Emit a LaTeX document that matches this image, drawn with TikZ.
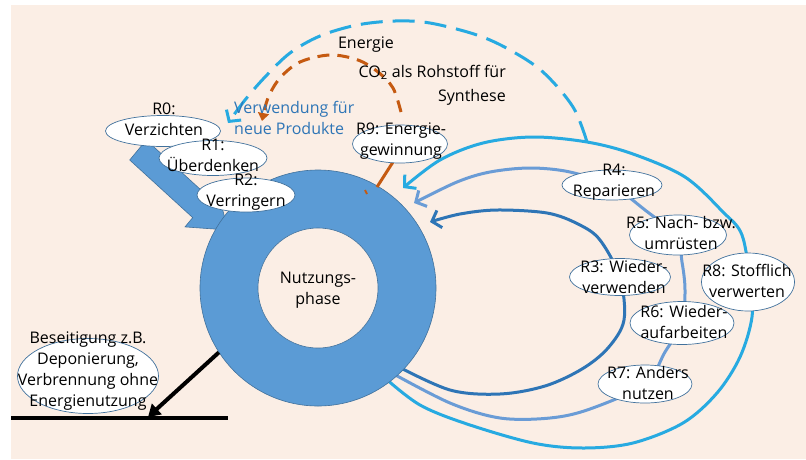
\documentclass[tikz,border=0pt]{standalone}
\usepackage{fontspec}
\setmainfont{Open Sans}
\usetikzlibrary{arrows.meta,shapes.geometric}
\definecolor{bg}{HTML}{FBEEE5}
\definecolor{ringblue}{HTML}{5B9BD5}
\definecolor{ringedge}{HTML}{41719C}
\definecolor{darkarc}{HTML}{2E75B6}
\definecolor{midarc}{HTML}{6A9CD6}
\definecolor{cyanarc}{HTML}{27AAE1}
\definecolor{orangearc}{HTML}{C55A11}
\definecolor{bluetext}{HTML}{2E75B6}
\begin{document}
\begin{tikzpicture}[x=1pt,y=-1pt,
  font=\fontsize{16}{21}\selectfont,
  bub/.style={ellipse, fill=white, draw=ringedge, line width=0.7pt, inner sep=0pt},
  txt/.style={align=center, inner sep=0pt, text=black},
  arc/.style={line width=3pt, -{Straight Barb[length=8pt,width=18pt]}},
  every plot/.style={smooth, tension=0.55}
]
\useasboundingbox (0,0) rectangle (806,459);
\fill[bg] (11,5) rectangle (806,459);

% block arrow from R0
\filldraw[fill=ringblue, draw=ringedge, line width=0.6pt]
  (129.7,160) -- (192.7,217.6) -- (185,226.9) -- (228,230) -- (217,188.3)
  -- (209.3,197.6) -- (146.3,140) -- cycle;

% waypoints
\coordinate (d0) at (395,365); \coordinate (d1) at (450,390); \coordinate (d2) at (500,394);
\coordinate (d3) at (545,386); \coordinate (d4) at (582,369); \coordinate (d5) at (608,348);
\coordinate (d6) at (624,320); \coordinate (r3c) at (620,278); \coordinate (d7) at (600,240);
\coordinate (d8) at (578,224); \coordinate (d9) at (547,213); \coordinate (d10) at (497,210);
\coordinate (d11) at (460,214); \coordinate (dt) at (430,222);

\coordinate (m0) at (390,372); \coordinate (m1) at (450,403); \coordinate (m2) at (500,418);
\coordinate (m3) at (550,418); \coordinate (m4) at (590,409); \coordinate (r7c) at (645,384);
\coordinate (m5) at (665,352); \coordinate (r6c) at (682,323); \coordinate (m6) at (685,290);
\coordinate (m7) at (682,262); \coordinate (r5c) at (676,236); \coordinate (m8) at (645,210);
\coordinate (r4c) at (612,186); \coordinate (m9) at (570,172); \coordinate (m10) at (530,168);
\coordinate (m11) at (490,172); \coordinate (m12) at (457,182); \coordinate (mt) at (414,203);

\coordinate (c0) at (385,378); \coordinate (c1) at (420,405); \coordinate (c2) at (467,424);
\coordinate (c3) at (533,443); \coordinate (c4) at (583,448); \coordinate (c5) at (633,443);
\coordinate (c6) at (683,423); \coordinate (c7) at (717,393); \coordinate (c8) at (740,357);
\coordinate (c9) at (752,317); \coordinate (c10) at (750,282); \coordinate (c11) at (742,235);
\coordinate (c12) at (723,212); \coordinate (c13) at (685,177); \coordinate (c14) at (633,154);
\coordinate (dashstart) at (587,142); \coordinate (c16) at (533,137); \coordinate (c17) at (483,143);
\coordinate (c18) at (440,160); \coordinate (ct) at (403,188);

\coordinate (e1) at (573,107); \coordinate (e2) at (543,72); \coordinate (e3) at (510,50);
\coordinate (e4) at (477,35); \coordinate (e5) at (430,23); \coordinate (e6) at (395,21);
\coordinate (e7) at (357,25); \coordinate (e8) at (320,36); \coordinate (e9) at (290,53);
\coordinate (e10) at (265,77); \coordinate (e11) at (245,100); \coordinate (et) at (228,123);

\coordinate (o0) at (401,112); \coordinate (o1) at (393,88); \coordinate (o2) at (378,72);
\coordinate (o3) at (358,60); \coordinate (o4) at (330,55); \coordinate (o5) at (300,62);
\coordinate (o6) at (280,78); \coordinate (o7) at (268,98); \coordinate (ot) at (262,121);

% arcs
\draw[arc, darkarc] plot coordinates {(d0) (d1) (d2) (d3) (d4) (d5) (d6) (r3c) (d7) (d8) (d9) (d10) (d11) (dt)};
\draw[arc, midarc] plot coordinates {(m0) (m1) (m2) (m3) (m4) (r7c) (m5) (r6c) (m6) (m7) (r5c) (m8) (r4c) (m9) (m10) (m11) (m12) (mt)};
\draw[arc, cyanarc] plot coordinates {(c0) (c1) (c2) (c3) (c4) (c5) (c6) (c7) (c8) (c9) (c10) (c11) (c12) (c13) (c14) (dashstart) (c16) (c17) (c18) (ct)};
\draw[arc, cyanarc, dash pattern=on 22pt off 10pt] plot coordinates {(dashstart) (e1) (e2) (e3) (e4) (e5) (e6) (e7) (e8) (e9) (e10) (e11) (et)};
\draw[line width=3pt, orangearc, dash pattern=on 12pt off 8pt, -{Triangle[length=8pt,width=11pt]}]
  plot coordinates {(o0) (o1) (o2) (o3) (o4) (o5) (o6) (o7) (ot)};

% ring
\node[circle, fill=ringblue, draw=ringedge, line width=0.6pt, minimum size=236pt, inner sep=0pt] (ring) at (318,288) {};
\node[circle, fill=bg, draw=ringedge, line width=0.6pt, minimum size=120pt, inner sep=0pt] (phase) at (318,288) {};

% orange link R9 -> ring
\coordinate (oa) at (393,162); \coordinate (ob) at (377,187);
\draw[line width=3pt, orangearc] (oa) -- (ob);
\coordinate (oc) at (365,190); \coordinate (od) at (367,194);
\draw[line width=2pt, orangearc] (oc) -- (od);

% ellipses
\node[bub, minimum width=115pt, minimum height=31pt] (r0) at (163,131) {};
\node[bub, minimum width=108pt, minimum height=35pt] (r1) at (213,158) {};
\node[bub, minimum width=98pt, minimum height=34pt] (r2) at (246,195) {};
\node[bub, minimum width=95pt, minimum height=38pt] (r9) at (400,144) {};
\node[bub, minimum width=100pt, minimum height=30pt] (r4) at (612,185) {};
\node[bub, minimum width=97pt, minimum height=40pt] (r5) at (678,235) {};
\node[bub, minimum width=101pt, minimum height=37pt] (r3) at (620,277) {};
\node[bub, minimum width=93pt, minimum height=58pt] (r8) at (748,282) {};
\node[bub, minimum width=104pt, minimum height=43pt] (r6) at (682,323) {};
\node[bub, minimum width=94pt, minimum height=38pt] (r7) at (645,384) {};
\node[bub, minimum width=141pt, minimum height=75pt] (disp) at (88,376) {};

% disposal arrow and ground line
\coordinate (g0) at (11,418); \coordinate (g1) at (228,418); \coordinate (dispo) at (148,417);
\draw[line width=4pt, black] (g0) -- (g1);
\draw[line width=4pt, black, -{Triangle[length=12pt,width=14pt]}] (ring.213) -- (dispo);

% texts
\node[txt] (phaset) at (318,290) {Nutzungs-\\phase};
\node[txt] (t0) at (164,119) {R0:\\Verzichten};
\node[txt] (t1) at (213,155) {R1:\\Überdenken};
\node[txt] (t2) at (246,192) {R2:\\Verringern};
\node[txt] (t9) at (401,141) {R9: Energie-\\gewinnung};
\node[txt] (t4) at (614,182) {R4:\\Reparieren};
\node[txt] (t5) at (681,233) {R5: Nach- bzw.\\umrüsten};
\node[txt] (t3) at (624,277) {R3: Wieder-\\verwenden};
\node[txt] (t8) at (747,281) {R8: Stofflich\\verwerten};
\node[txt] (t6) at (684,322) {R6: Wieder-\\aufarbeiten};
\node[txt] (t7) at (648,383) {R7: Anders\\nutzen};
\node[txt] (tdisp) at (88,371) {Beseitigung z.B.\\Deponierung,\\Verbrennung ohne\\Energienutzung};
\node[txt] (energie) at (366,45) {Energie};
\node[txt, align=right, anchor=east] (co2) at (506,85) {CO\textsubscript{2} als Rohstoff für\\[3pt]Synthese};
\node[txt, align=left, anchor=west, text=bluetext] (verw) at (234,118) {Verwendung für\\neue Produkte};
\end{tikzpicture}
\end{document}
